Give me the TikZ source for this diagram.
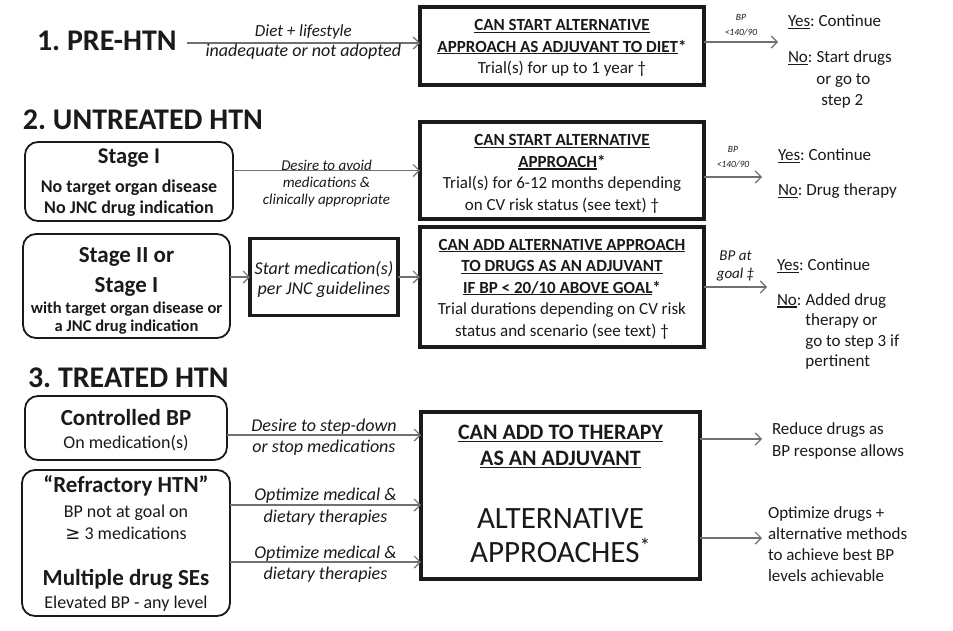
\documentclass[tikz,border=0pt]{standalone}
\usepackage{fontspec}
\setmainfont{Carlito}
\newfontfamily\symfont{DejaVu Sans}
\usetikzlibrary{arrows.meta}
\definecolor{ink}{HTML}{1A1A1A}
\definecolor{arrowgray}{HTML}{707070}
\newcommand{\fsz}[2]{\fontsize{#1}{#2}\selectfont}
\newcommand{\uln}[1]{\setbox0\hbox{#1}\rlap{\rule[-2.3pt]{\wd0}{1.2pt}}\box0}
\frenchspacing
\begin{document}
\begin{tikzpicture}[x=1pt,y=-1pt,
  every node/.style={inner sep=0pt, outer sep=0pt, text=ink},
  title/.style={font=\bfseries\fsz{30}{36}, anchor=west},
  sqbox/.style={draw=ink, line width=3.2pt},
  boxtext/.style={align=center, font=\fsz{17}{21.5}},
  rbox/.style={draw=ink, line width=1.8pt, rounded corners=13pt},
  link/.style={draw=arrowgray, line width=1.2pt, -{Straight Barb[length=6pt,width=12pt,line width=1.2pt]}},
  lab/.style={font=\itshape\fsz{18}{21}, align=center},
  tinylab/.style={font=\itshape\fsz{9.5}{15}, align=center},
  outtxt/.style={font=\fsz{17}{21.5}, align=left, anchor=west},
]
\fill[white] (0,0) rectangle (953,630);
\useasboundingbox (0,0) rectangle (953,630);

% ---------- Section 1 ----------
\node[title] (t1) at (37,41) {1. PRE-HTN};
\node[sqbox, minimum width=284, minimum height=78] (b1) at (562,46) {};
\node[boxtext] (b1t) at (562,48)
  {{\bfseries\uln{CAN START ALTERNATIVE}}\\{\bfseries\uln{APPROACH AS ADJUVANT TO DIET}*}\\Trial(s) for up to 1 year †};
\path (t1.east) ++(10,2) coordinate (a1s);
\draw[link] (a1s) -- (a1s -| b1.west)
  node[midway, above=4pt, lab, font=\itshape\fsz{17}{21}] {Diet + lifestyle}
  node[midway, below=1pt, lab] {inadequate or not adopted};
\coordinate (r1) at (778,42);
\draw[link] ([yshift=4pt]b1.east) -- (r1) node[midway, above=6pt, tinylab] {BP\\<140/90};
\node[outtxt] (y1) at (788,22) {\uln{Yes}: Continue};
\node[outtxt] (n1) at (788,80) {\begin{tabular}{@{}l@{\hspace{4pt}}l@{}}\uln{No}: & Start drugs\\ & or go to\\ & \hspace{5pt}step 2\end{tabular}};

% ---------- Section 2 ----------
\node[title] (t2) at (23,120) {2. UNTREATED HTN};
\node[rbox, minimum width=208, minimum height=79] (s1) at (129,181.5) {};
\node[align=center, font=\bfseries\fsz{18}{21}] (s1t) at (129,182.5)
  {{\fsz{22.5}{27}Stage I}\\[8pt]No target organ disease\\No JNC drug indication};
\node[sqbox, minimum width=284, minimum height=97] (b2) at (562,170.5) {};
\node[boxtext] (b2t) at (562,174)
  {{\bfseries\uln{CAN START ALTERNATIVE}}\\{\bfseries\uln{APPROACH}*}\\Trial(s) for 6-12 months depending\\on CV risk status (see text) †};
\draw[link] (s1.east |- b2.west) -- (b2.west)
  node[midway, above=0pt, lab, font=\itshape\fsz{15}{16.5}] {Desire to avoid}
  node[midway, below=7pt, lab, font=\itshape\fsz{15}{16.5}] {medications \&\\clinically appropriate};
\coordinate (r2) at (762,177);
\draw[link] ([yshift=-6.5pt]b2.east) -- (r2) node[midway, above=9pt, tinylab] {BP\\<140/90};
\node[outtxt] (y2) at (778,156) {\uln{Yes}: Continue};
\node[outtxt] (n2) at (778,191) {\uln{No}: Drug therapy};

\node[rbox, minimum width=207, minimum height=104] (s2) at (126.5,286) {};
\node[align=center, font=\bfseries\fsz{16.5}{18.5}] (s2t) at (126.5,291)
  {{\fsz{23}{27}Stage II or}\\[10pt]{\fsz{23}{27}Stage I}\\[2pt]with target organ disease or\\a JNC drug indication};
\node[draw=ink, line width=3.5pt, minimum width=148, minimum height=77] (med) at (324,277) {};
\node[align=center, font=\itshape\fsz{18}{20}] (medt) at (324,279) {Start medication(s)\\per JNC guidelines};
\node[sqbox, minimum width=284, minimum height=120] (b3) at (562,287) {};
\node[boxtext] (b3t) at (562,289)
  {{\bfseries\uln{CAN ADD ALTERNATIVE APPROACH}}\\{\bfseries\uln{TO DRUGS AS AN ADJUVANT}}\\{\bfseries\uln{IF BP < 20/10 ABOVE GOAL}*}\\Trial durations depending on CV risk\\status and scenario (see text) †};
\draw[link] (s2.east |- med.west) -- (med.west);
\draw[link] (med.east) -- (med.east -| b3.west);
\coordinate (r3) at (767,287);
\draw[link] (b3.east) -- (r3) node[midway, above=6pt, lab, font=\itshape\fsz{15}{18}] {BP at\\goal ‡};
\node[outtxt] (y3) at (777,266) {\uln{Yes}: Continue};
\node[outtxt, font=\fsz{17}{20.5}] (n3) at (777,332) {\begin{tabular}{@{}l@{\hspace{4pt}}l@{}}\uln{No}: & Added drug\\ & therapy or\\ & go to step 3 if\\ & pertinent\end{tabular}};

% ---------- Section 3 ----------
\node[title] (t3) at (28,378) {3. TREATED HTN};
\node[rbox, minimum width=202, minimum height=64] (cb) at (126,428) {};
\node[align=center, font=\fsz{18}{21}] (cbt) at (126,430)
  {{\bfseries\fsz{23}{27}Controlled BP}\\[2pt]On medication(s)};
\node[rbox, minimum width=208, minimum height=146] (rf) at (126,543) {};
\node[align=center, font=\fsz{18}{22}] (rft) at (126,543.5)
  {{\bfseries\fsz{23}{27}“Refractory HTN”}\\[3pt]BP not at goal on\\{\symfont ≥} 3 medications\\[24pt]{\bfseries\fsz{23}{27}Multiple drug SEs}\\[1pt]Elevated BP - any level};
\node[sqbox, minimum width=279, minimum height=167] (big) at (560.5,495.5) {};
\node[align=center, font=\fsz{31}{34}] (bigt) at (560.5,494)
  {{\bfseries\fsz{22}{26}\uln{CAN ADD TO THERAPY}}\\[-8pt]{\bfseries\fsz{22}{26}\uln{AS AN ADJUVANT}}\\[29pt]ALTERNATIVE\\APPROACHES\textsuperscript{*}};

\draw[link] ([yshift=-7pt]cb.east) -- ([yshift=-7pt]cb.east -| big.west)
  node[midway, above=1pt, lab] {Desire to step-down}
  node[midway, below=4.5pt, lab] {or stop medications};
\draw[link] ([yshift=38pt]rf.east) -- ([yshift=38pt]rf.east -| big.west)
  node[midway, above=2pt, lab] {Optimize medical \&}
  node[midway, below=4.5pt, lab] {dietary therapies};
\draw[link] ([yshift=-19pt]rf.east) -- ([yshift=-19pt]rf.east -| big.west)
  node[midway, above=1pt, lab] {Optimize medical \&}
  node[midway, below=4.5pt, lab] {dietary therapies};

\coordinate (r4) at (762,439);
\draw[link] (big.east |- r4) -- (r4);
\coordinate (r5) at (762,538);
\draw[link] (big.east |- r5) -- (r5);
\node[outtxt] (o1) at (772,441) {Reduce drugs as\\BP response allows};
\node[outtxt, font=\fsz{17}{21}] (o2) at (768,544) {Optimize drugs +\\alternative methods\\to achieve best BP\\levels achievable};
\end{tikzpicture}
\end{document}
